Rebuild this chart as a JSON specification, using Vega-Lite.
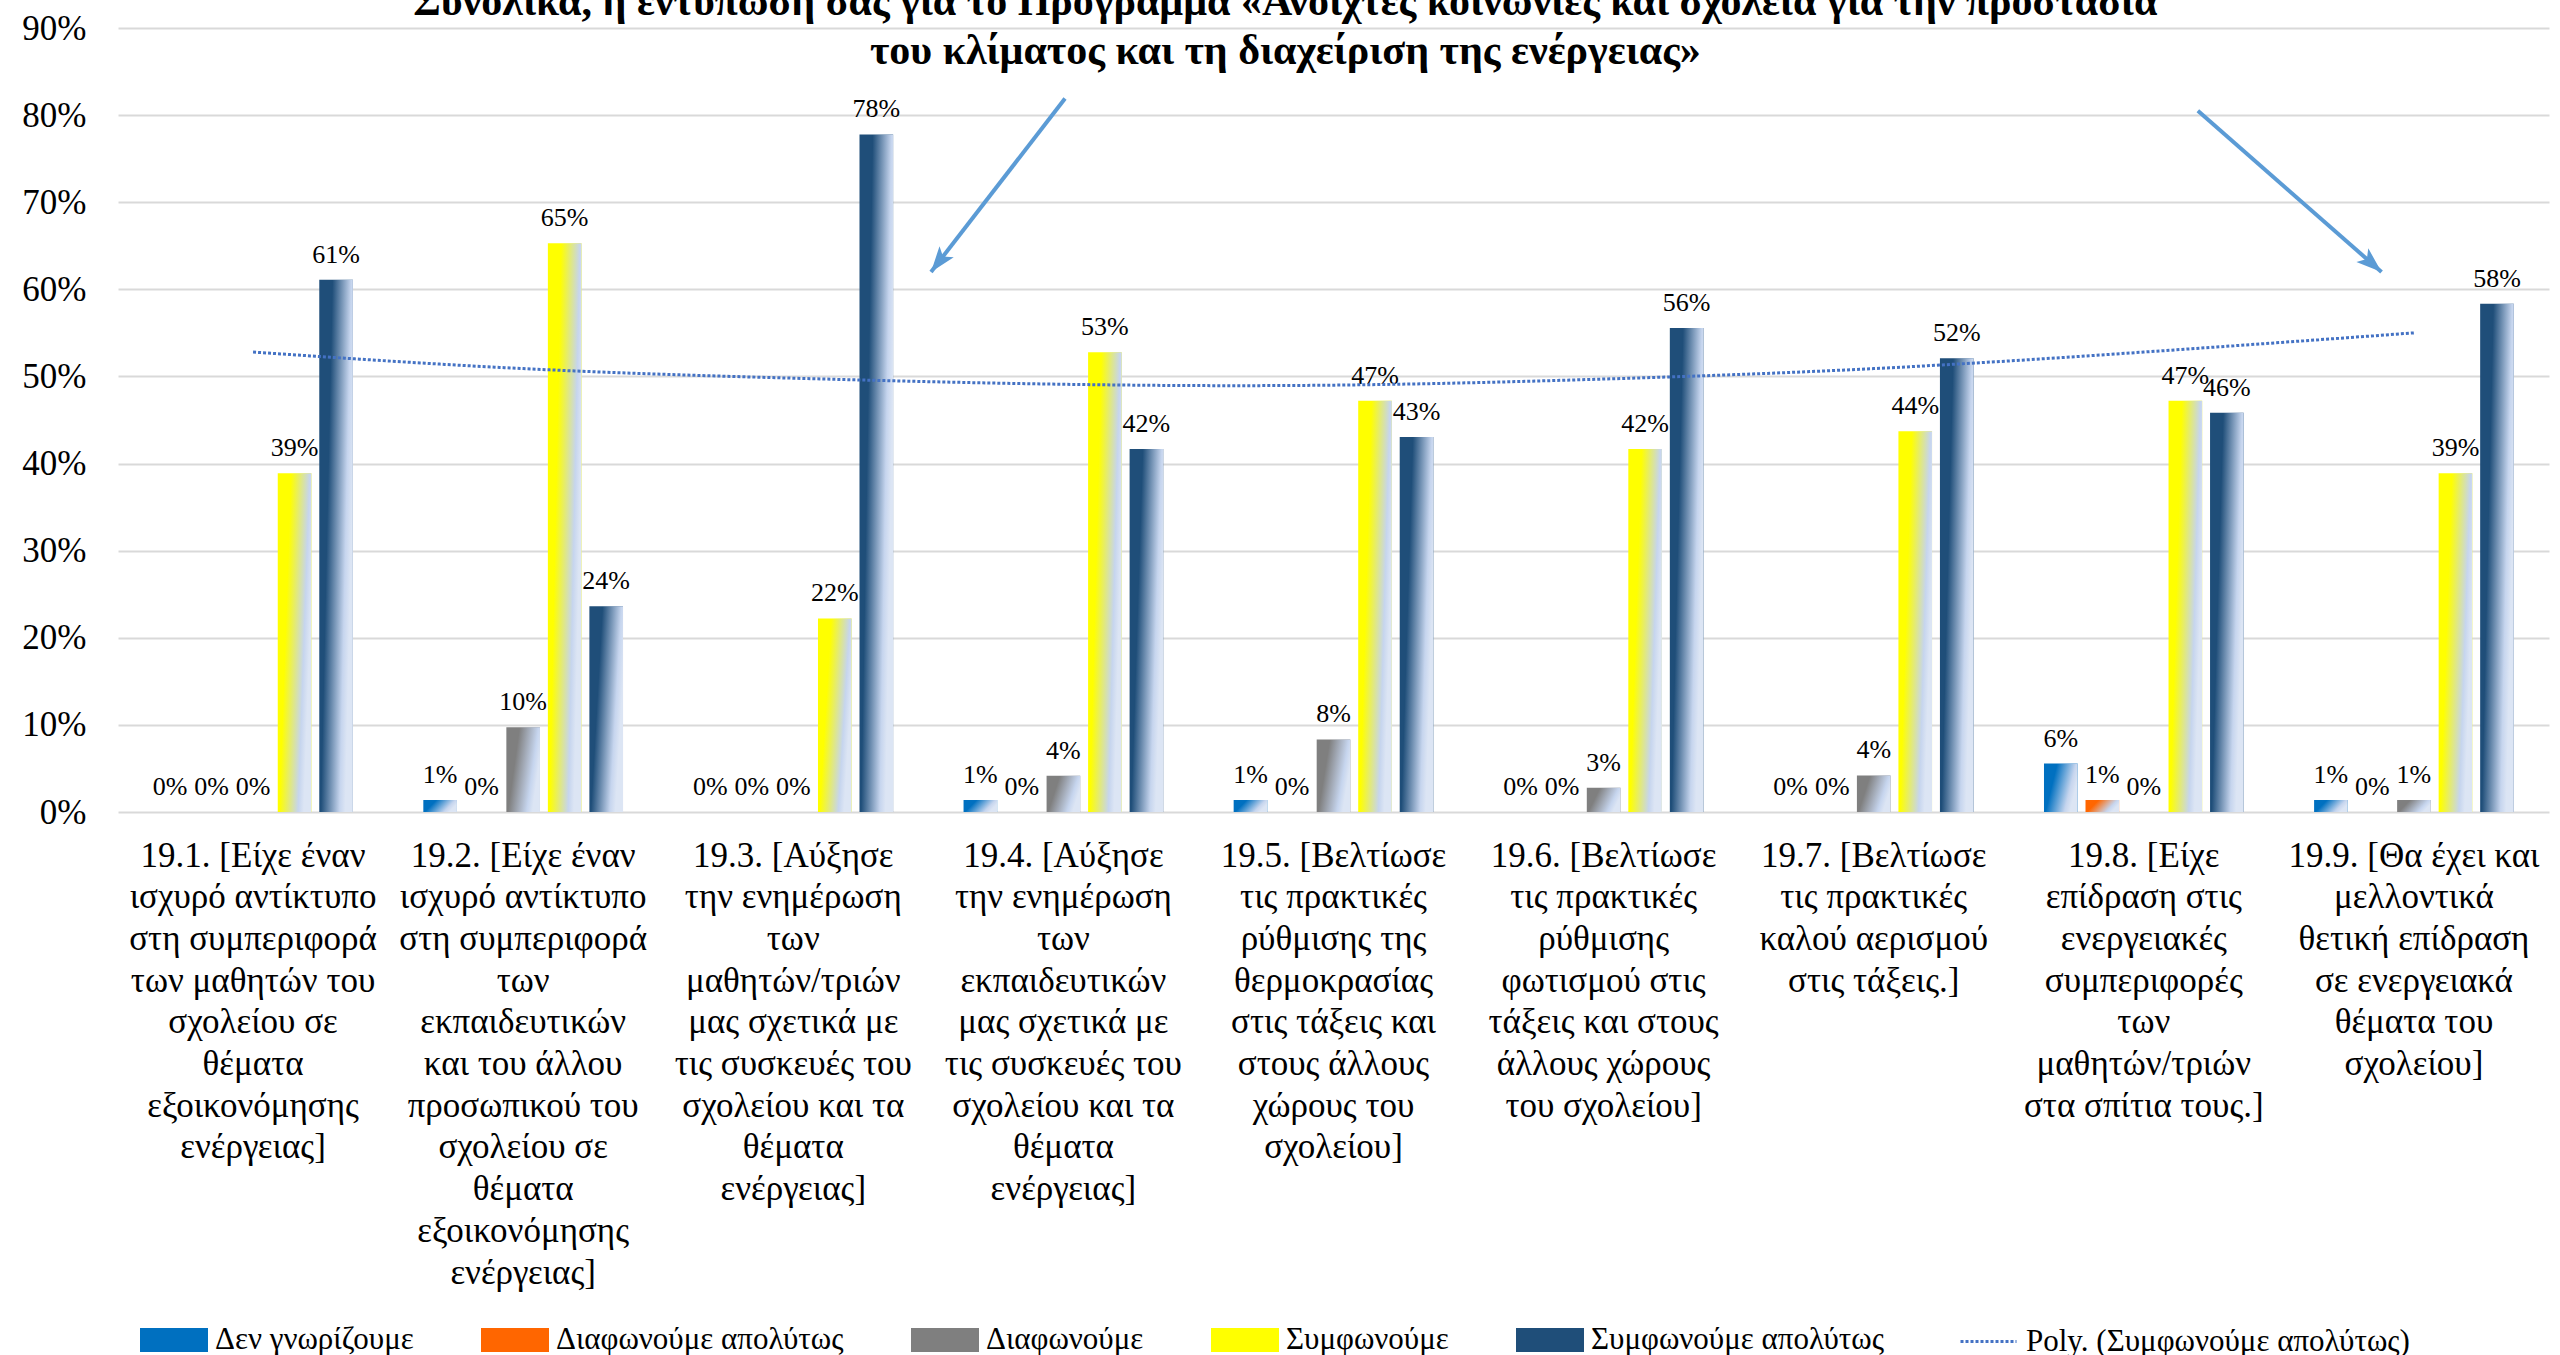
{
  "$schema": "https://vega.github.io/schema/vega-lite/v6.json",
  "width": 2431,
  "height": 784,
  "autosize": {"type": "none"},
  "padding": {"left": 118, "top": 28, "right": 11, "bottom": 543},
  "background": "white",
  "config": {"font": "Liberation Serif", "view": {"stroke": null}},
  "title": {
    "text": ["Συνολικά, η εντύπωση σας για το Πρόγραμμα «Ανοιχτές κοινωνίες και σχολεία για την προστασία", "του κλίματος και τη διαχείριση της ενέργειας»"],
    "anchor": "middle",
    "frame": "bounds",
    "fontSize": 42,
    "fontWeight": "bold",
    "font": "Liberation Serif",
    "lineHeight": 49,
    "color": "#000000",
    "baseline": "bottom",
    "offset": 0,
    "dy": 104
  },
  "datasets": {
    "bars": [
      {"cat": "19.1. [Είχε έναν\nισχυρό αντίκτυπο\nστη συμπεριφορά\nτων μαθητών του\nσχολείου σε\nθέματα\nεξοικονόμησης\nενέργειας]", "series": "Δεν γνωρίζουμε", "value": 0},
      {"cat": "19.1. [Είχε έναν\nισχυρό αντίκτυπο\nστη συμπεριφορά\nτων μαθητών του\nσχολείου σε\nθέματα\nεξοικονόμησης\nενέργειας]", "series": "Διαφωνούμε απολύτως", "value": 0},
      {"cat": "19.1. [Είχε έναν\nισχυρό αντίκτυπο\nστη συμπεριφορά\nτων μαθητών του\nσχολείου σε\nθέματα\nεξοικονόμησης\nενέργειας]", "series": "Διαφωνούμε", "value": 0},
      {"cat": "19.1. [Είχε έναν\nισχυρό αντίκτυπο\nστη συμπεριφορά\nτων μαθητών του\nσχολείου σε\nθέματα\nεξοικονόμησης\nενέργειας]", "series": "Συμφωνούμε", "value": 0.38889},
      {"cat": "19.1. [Είχε έναν\nισχυρό αντίκτυπο\nστη συμπεριφορά\nτων μαθητών του\nσχολείου σε\nθέματα\nεξοικονόμησης\nενέργειας]", "series": "Συμφωνούμε απολύτως", "value": 0.61111},
      {"cat": "19.2. [Είχε έναν\nισχυρό αντίκτυπο\nστη συμπεριφορά\nτων\nεκπαιδευτικών\nκαι του άλλου\nπροσωπικού του\nσχολείου σε\nθέματα\nεξοικονόμησης\nενέργειας]", "series": "Δεν γνωρίζουμε", "value": 0.01389},
      {"cat": "19.2. [Είχε έναν\nισχυρό αντίκτυπο\nστη συμπεριφορά\nτων\nεκπαιδευτικών\nκαι του άλλου\nπροσωπικού του\nσχολείου σε\nθέματα\nεξοικονόμησης\nενέργειας]", "series": "Διαφωνούμε απολύτως", "value": 0},
      {"cat": "19.2. [Είχε έναν\nισχυρό αντίκτυπο\nστη συμπεριφορά\nτων\nεκπαιδευτικών\nκαι του άλλου\nπροσωπικού του\nσχολείου σε\nθέματα\nεξοικονόμησης\nενέργειας]", "series": "Διαφωνούμε", "value": 0.09722},
      {"cat": "19.2. [Είχε έναν\nισχυρό αντίκτυπο\nστη συμπεριφορά\nτων\nεκπαιδευτικών\nκαι του άλλου\nπροσωπικού του\nσχολείου σε\nθέματα\nεξοικονόμησης\nενέργειας]", "series": "Συμφωνούμε", "value": 0.65278},
      {"cat": "19.2. [Είχε έναν\nισχυρό αντίκτυπο\nστη συμπεριφορά\nτων\nεκπαιδευτικών\nκαι του άλλου\nπροσωπικού του\nσχολείου σε\nθέματα\nεξοικονόμησης\nενέργειας]", "series": "Συμφωνούμε απολύτως", "value": 0.23611},
      {"cat": "19.3. [Αύξησε\nτην ενημέρωση\nτων\nμαθητών/τριών\nμας σχετικά με\nτις συσκευές του\nσχολείου και  τα\nθέματα\nενέργειας]", "series": "Δεν γνωρίζουμε", "value": 0},
      {"cat": "19.3. [Αύξησε\nτην ενημέρωση\nτων\nμαθητών/τριών\nμας σχετικά με\nτις συσκευές του\nσχολείου και  τα\nθέματα\nενέργειας]", "series": "Διαφωνούμε απολύτως", "value": 0},
      {"cat": "19.3. [Αύξησε\nτην ενημέρωση\nτων\nμαθητών/τριών\nμας σχετικά με\nτις συσκευές του\nσχολείου και  τα\nθέματα\nενέργειας]", "series": "Διαφωνούμε", "value": 0},
      {"cat": "19.3. [Αύξησε\nτην ενημέρωση\nτων\nμαθητών/τριών\nμας σχετικά με\nτις συσκευές του\nσχολείου και  τα\nθέματα\nενέργειας]", "series": "Συμφωνούμε", "value": 0.22222},
      {"cat": "19.3. [Αύξησε\nτην ενημέρωση\nτων\nμαθητών/τριών\nμας σχετικά με\nτις συσκευές του\nσχολείου και  τα\nθέματα\nενέργειας]", "series": "Συμφωνούμε απολύτως", "value": 0.77778},
      {"cat": "19.4. [Αύξησε\nτην ενημέρωση\nτων\nεκπαιδευτικών\nμας σχετικά με\nτις συσκευές του\nσχολείου και  τα\nθέματα\nενέργειας]", "series": "Δεν γνωρίζουμε", "value": 0.01389},
      {"cat": "19.4. [Αύξησε\nτην ενημέρωση\nτων\nεκπαιδευτικών\nμας σχετικά με\nτις συσκευές του\nσχολείου και  τα\nθέματα\nενέργειας]", "series": "Διαφωνούμε απολύτως", "value": 0},
      {"cat": "19.4. [Αύξησε\nτην ενημέρωση\nτων\nεκπαιδευτικών\nμας σχετικά με\nτις συσκευές του\nσχολείου και  τα\nθέματα\nενέργειας]", "series": "Διαφωνούμε", "value": 0.04167},
      {"cat": "19.4. [Αύξησε\nτην ενημέρωση\nτων\nεκπαιδευτικών\nμας σχετικά με\nτις συσκευές του\nσχολείου και  τα\nθέματα\nενέργειας]", "series": "Συμφωνούμε", "value": 0.52778},
      {"cat": "19.4. [Αύξησε\nτην ενημέρωση\nτων\nεκπαιδευτικών\nμας σχετικά με\nτις συσκευές του\nσχολείου και  τα\nθέματα\nενέργειας]", "series": "Συμφωνούμε απολύτως", "value": 0.41667},
      {"cat": "19.5. [Βελτίωσε\nτις πρακτικές\nρύθμισης της\nθερμοκρασίας\nστις  τάξεις και\nστους άλλους\nχώρους του\nσχολείου]", "series": "Δεν γνωρίζουμε", "value": 0.01389},
      {"cat": "19.5. [Βελτίωσε\nτις πρακτικές\nρύθμισης της\nθερμοκρασίας\nστις  τάξεις και\nστους άλλους\nχώρους του\nσχολείου]", "series": "Διαφωνούμε απολύτως", "value": 0},
      {"cat": "19.5. [Βελτίωσε\nτις πρακτικές\nρύθμισης της\nθερμοκρασίας\nστις  τάξεις και\nστους άλλους\nχώρους του\nσχολείου]", "series": "Διαφωνούμε", "value": 0.08333},
      {"cat": "19.5. [Βελτίωσε\nτις πρακτικές\nρύθμισης της\nθερμοκρασίας\nστις  τάξεις και\nστους άλλους\nχώρους του\nσχολείου]", "series": "Συμφωνούμε", "value": 0.47222},
      {"cat": "19.5. [Βελτίωσε\nτις πρακτικές\nρύθμισης της\nθερμοκρασίας\nστις  τάξεις και\nστους άλλους\nχώρους του\nσχολείου]", "series": "Συμφωνούμε απολύτως", "value": 0.43056},
      {"cat": "19.6. [Βελτίωσε\nτις πρακτικές\nρύθμισης\nφωτισμού στις\nτάξεις και στους\nάλλους χώρους\nτου σχολείου]", "series": "Δεν γνωρίζουμε", "value": 0},
      {"cat": "19.6. [Βελτίωσε\nτις πρακτικές\nρύθμισης\nφωτισμού στις\nτάξεις και στους\nάλλους χώρους\nτου σχολείου]", "series": "Διαφωνούμε απολύτως", "value": 0},
      {"cat": "19.6. [Βελτίωσε\nτις πρακτικές\nρύθμισης\nφωτισμού στις\nτάξεις και στους\nάλλους χώρους\nτου σχολείου]", "series": "Διαφωνούμε", "value": 0.02778},
      {"cat": "19.6. [Βελτίωσε\nτις πρακτικές\nρύθμισης\nφωτισμού στις\nτάξεις και στους\nάλλους χώρους\nτου σχολείου]", "series": "Συμφωνούμε", "value": 0.41667},
      {"cat": "19.6. [Βελτίωσε\nτις πρακτικές\nρύθμισης\nφωτισμού στις\nτάξεις και στους\nάλλους χώρους\nτου σχολείου]", "series": "Συμφωνούμε απολύτως", "value": 0.55556},
      {"cat": "19.7. [Βελτίωσε\nτις πρακτικές\nκαλού αερισμού\nστις τάξεις.]", "series": "Δεν γνωρίζουμε", "value": 0},
      {"cat": "19.7. [Βελτίωσε\nτις πρακτικές\nκαλού αερισμού\nστις τάξεις.]", "series": "Διαφωνούμε απολύτως", "value": 0},
      {"cat": "19.7. [Βελτίωσε\nτις πρακτικές\nκαλού αερισμού\nστις τάξεις.]", "series": "Διαφωνούμε", "value": 0.042},
      {"cat": "19.7. [Βελτίωσε\nτις πρακτικές\nκαλού αερισμού\nστις τάξεις.]", "series": "Συμφωνούμε", "value": 0.437},
      {"cat": "19.7. [Βελτίωσε\nτις πρακτικές\nκαλού αερισμού\nστις τάξεις.]", "series": "Συμφωνούμε απολύτως", "value": 0.521},
      {"cat": "19.8. [Είχε\nεπίδραση στις\nενεργειακές\nσυμπεριφορές\nτων\nμαθητών/τριών\nστα σπίτια τους.]", "series": "Δεν γνωρίζουμε", "value": 0.05556},
      {"cat": "19.8. [Είχε\nεπίδραση στις\nενεργειακές\nσυμπεριφορές\nτων\nμαθητών/τριών\nστα σπίτια τους.]", "series": "Διαφωνούμε απολύτως", "value": 0.01389},
      {"cat": "19.8. [Είχε\nεπίδραση στις\nενεργειακές\nσυμπεριφορές\nτων\nμαθητών/τριών\nστα σπίτια τους.]", "series": "Διαφωνούμε", "value": 0},
      {"cat": "19.8. [Είχε\nεπίδραση στις\nενεργειακές\nσυμπεριφορές\nτων\nμαθητών/τριών\nστα σπίτια τους.]", "series": "Συμφωνούμε", "value": 0.47222},
      {"cat": "19.8. [Είχε\nεπίδραση στις\nενεργειακές\nσυμπεριφορές\nτων\nμαθητών/τριών\nστα σπίτια τους.]", "series": "Συμφωνούμε απολύτως", "value": 0.45833},
      {"cat": "19.9. [Θα έχει και\nμελλοντικά\nθετική επίδραση\nσε ενεργειακά\nθέματα του\nσχολείου]", "series": "Δεν γνωρίζουμε", "value": 0.01389},
      {"cat": "19.9. [Θα έχει και\nμελλοντικά\nθετική επίδραση\nσε ενεργειακά\nθέματα του\nσχολείου]", "series": "Διαφωνούμε απολύτως", "value": 0},
      {"cat": "19.9. [Θα έχει και\nμελλοντικά\nθετική επίδραση\nσε ενεργειακά\nθέματα του\nσχολείου]", "series": "Διαφωνούμε", "value": 0.01389},
      {"cat": "19.9. [Θα έχει και\nμελλοντικά\nθετική επίδραση\nσε ενεργειακά\nθέματα του\nσχολείου]", "series": "Συμφωνούμε", "value": 0.38889},
      {"cat": "19.9. [Θα έχει και\nμελλοντικά\nθετική επίδραση\nσε ενεργειακά\nθέματα του\nσχολείου]", "series": "Συμφωνούμε απολύτως", "value": 0.58333}
    ],
    "trend": [
      {"cat": "19.1. [Είχε έναν\nισχυρό αντίκτυπο\nστη συμπεριφορά\nτων μαθητών του\nσχολείου σε\nθέματα\nεξοικονόμησης\nενέργειας]", "fit": "Poly. (Συμφωνούμε απολύτως)", "value": 0.528},
      {"cat": "19.2. [Είχε έναν\nισχυρό αντίκτυπο\nστη συμπεριφορά\nτων\nεκπαιδευτικών\nκαι του άλλου\nπροσωπικού του\nσχολείου σε\nθέματα\nεξοικονόμησης\nενέργειας]", "fit": "Poly. (Συμφωνούμε απολύτως)", "value": 0.509},
      {"cat": "19.3. [Αύξησε\nτην ενημέρωση\nτων\nμαθητών/τριών\nμας σχετικά με\nτις συσκευές του\nσχολείου και  τα\nθέματα\nενέργειας]", "fit": "Poly. (Συμφωνούμε απολύτως)", "value": 0.498},
      {"cat": "19.4. [Αύξησε\nτην ενημέρωση\nτων\nεκπαιδευτικών\nμας σχετικά με\nτις συσκευές του\nσχολείου και  τα\nθέματα\nενέργειας]", "fit": "Poly. (Συμφωνούμε απολύτως)", "value": 0.491},
      {"cat": "19.5. [Βελτίωσε\nτις πρακτικές\nρύθμισης της\nθερμοκρασίας\nστις  τάξεις και\nστους άλλους\nχώρους του\nσχολείου]", "fit": "Poly. (Συμφωνούμε απολύτως)", "value": 0.490},
      {"cat": "19.6. [Βελτίωσε\nτις πρακτικές\nρύθμισης\nφωτισμού στις\nτάξεις και στους\nάλλους χώρους\nτου σχολείου]", "fit": "Poly. (Συμφωνούμε απολύτως)", "value": 0.497},
      {"cat": "19.7. [Βελτίωσε\nτις πρακτικές\nκαλού αερισμού\nστις τάξεις.]", "fit": "Poly. (Συμφωνούμε απολύτως)", "value": 0.509},
      {"cat": "19.8. [Είχε\nεπίδραση στις\nενεργειακές\nσυμπεριφορές\nτων\nμαθητών/τριών\nστα σπίτια τους.]", "fit": "Poly. (Συμφωνούμε απολύτως)", "value": 0.528},
      {"cat": "19.9. [Θα έχει και\nμελλοντικά\nθετική επίδραση\nσε ενεργειακά\nθέματα του\nσχολείου]", "fit": "Poly. (Συμφωνούμε απολύτως)", "value": 0.550}
    ],
    "arrows": [
      {"id": "a", "x": 3.506, "y": 0.819, "x2": 3.01, "y2": 0.62},
      {"id": "b", "x": 7.70, "y": 0.805, "x2": 8.38, "y2": 0.62}
    ]
  },
  "layer": [
    {
      "layer": [
        {
          "data": {"name": "bars"},
          "mark": {"type": "bar"},
          "encoding": {
            "x": {
              "field": "cat", "type": "nominal", "sort": null,
              "scale": {"paddingInner": 0.23, "paddingOuter": 0.115},
              "axis": {
                "title": null, "labelAngle": 0, "labelFontSize": 35, "labelLineHeight": 41.7,
                "labelPadding": 26, "ticks": false, "domain": false, "grid": false,
                "labelExpr": "split(datum.label, '\\n')", "labelLimit": 1000,
                "labelOverlap": false, "labelColor": "#000000", "labelBaseline": "top"
              }
            },
            "xOffset": {
              "field": "series", "type": "nominal",
              "scale": {"domain": ["Δεν γνωρίζουμε", "Διαφωνούμε απολύτως", "Διαφωνούμε", "Συμφωνούμε", "Συμφωνούμε απολύτως"], "paddingInner": 0.19, "paddingOuter": 0.1}
            },
            "y": {
              "field": "value", "type": "quantitative",
              "scale": {"domain": [0, 0.9], "nice": false},
              "axis": {
                "title": null, "format": ".0%", "values": [0, 0.1, 0.2, 0.3, 0.4, 0.5, 0.6, 0.7, 0.8, 0.9],
                "labelFontSize": 35, "labelPadding": 32, "ticks": false, "domain": false,
                "gridColor": "#d9d9d9", "gridWidth": 2, "labelColor": "#000000"
              }
            },
            "color": {
              "field": "series", "type": "nominal",
              "scale": {
                "domain": ["Δεν γνωρίζουμε", "Διαφωνούμε απολύτως", "Διαφωνούμε", "Συμφωνούμε", "Συμφωνούμε απολύτως"],
                "range": ["#0070c0", "#ff6600", "#7f7f7f", "#ffff00", "#1f4e79"]
              },
              "legend": {
                "orient": "none", "legendX": 22, "legendY": 1278, "direction": "horizontal", "columns": 5,
                "title": null, "padding": 0, "symbolType": "M-1,-0.35H1V0.35H-1Z", "symbolSize": 4624,
                "symbolStrokeWidth": 0, "labelFontSize": 31, "labelOffset": 7, "columnPadding": 67,
                "labelColor": "#000000", "labelLimit": 1000
              }
            }
          }
        },
        {
          "data": {"name": "bars"},
          "mark": {
            "type": "bar",
            "color": {"gradient": "linear", "x1": 0, "y1": 0, "x2": 1, "y2": 0.35, "stops": [{"offset": 0, "color": "rgba(198,213,238,0)"}, {"offset": 0.35, "color": "rgba(198,213,238,0)"}, {"offset": 0.85, "color": "rgba(198,213,238,1)"}, {"offset": 1, "color": "#dce5f4"}]}
          },
          "encoding": {
            "x": {"field": "cat", "type": "nominal", "sort": null},
            "xOffset": {"field": "series", "type": "nominal"},
            "y": {"field": "value", "type": "quantitative"}
          }
        },
        {
          "data": {"name": "bars"},
          "mark": {"type": "text", "baseline": "alphabetic", "dy": -17, "fontSize": 26, "color": "#000000"},
          "encoding": {
            "x": {"field": "cat", "type": "nominal", "sort": null},
            "xOffset": {"field": "series", "type": "nominal"},
            "y": {"field": "value", "type": "quantitative"},
            "text": {"field": "value", "type": "quantitative", "format": ".0%"}
          }
        },
        {
          "data": {"name": "trend"},
          "mark": {"type": "line", "interpolate": "natural", "strokeDash": [3, 2], "strokeWidth": 3},
          "encoding": {
            "x": {"field": "cat", "type": "nominal", "sort": null},
            "y": {"field": "value", "type": "quantitative"},
            "stroke": {
              "field": "fit", "type": "nominal",
              "scale": {"domain": ["Poly. (Συμφωνούμε απολύτως)"], "range": ["#4472c4"]},
              "legend": {
                "orient": "none", "legendX": 1841, "legendY": 1284, "direction": "horizontal",
                "title": null, "padding": 0, "symbolType": "stroke", "symbolSize": 3136,
                "symbolDash": [3, 2], "symbolStrokeWidth": 3, "labelFontSize": 31, "labelOffset": 8,
                "labelColor": "#000000", "labelLimit": 1000
              }
            }
          }
        }
      ]
    },
    {
      "data": {"name": "arrows"},
      "layer": [
        {
          "mark": {"type": "rule", "color": "#5b9bd5", "strokeWidth": 4},
          "encoding": {
            "x": {"field": "x", "type": "quantitative", "scale": {"domain": [0, 9], "nice": false, "zero": false}, "axis": null},
            "x2": {"field": "x2"},
            "y": {"field": "y", "type": "quantitative", "scale": {"domain": [0, 0.9], "nice": false}},
            "y2": {"field": "y2"}
          }
        },
        {
          "transform": [{"filter": "datum.id === 'a'"}],
          "mark": {"type": "point", "shape": "M0,0L0.6,1.7L0,1.3L-0.6,1.7Z", "filled": true, "color": "#5b9bd5", "opacity": 1, "size": 900, "angle": 217.7},
          "encoding": {
            "x": {"field": "x2", "type": "quantitative"},
            "y": {"field": "y2", "type": "quantitative"}
          }
        },
        {
          "transform": [{"filter": "datum.id === 'b'"}],
          "mark": {"type": "point", "shape": "M0,0L0.6,1.7L0,1.3L-0.6,1.7Z", "filled": true, "color": "#5b9bd5", "opacity": 1, "size": 900, "angle": 131.2},
          "encoding": {
            "x": {"field": "x2", "type": "quantitative"},
            "y": {"field": "y2", "type": "quantitative"}
          }
        }
      ]
    }
  ],
  "resolve": {"scale": {"x": "independent"}}
}
